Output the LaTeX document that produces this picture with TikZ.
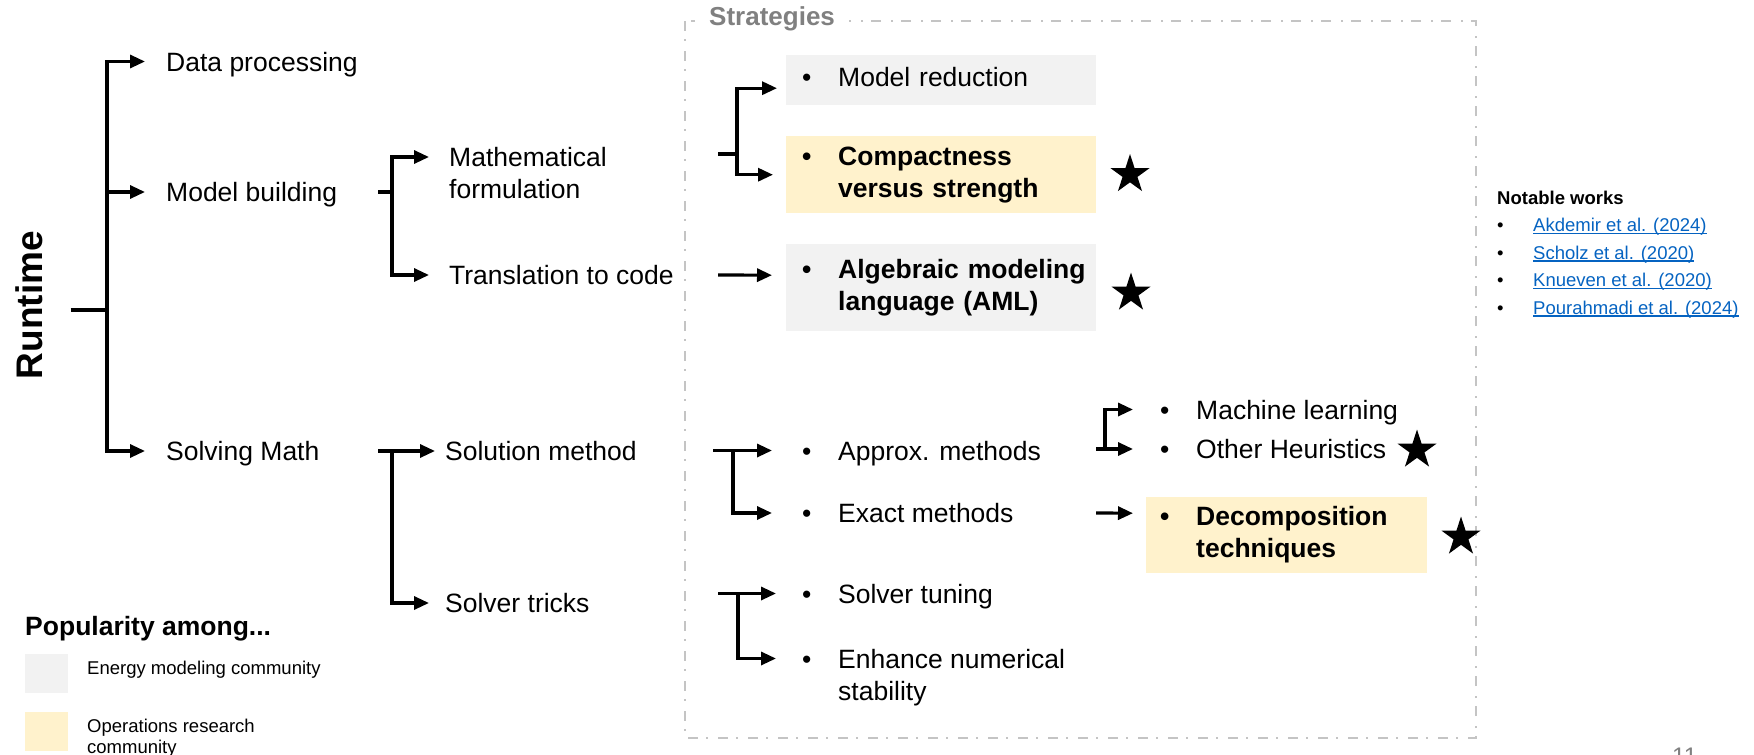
\documentclass[tikz,border=0pt]{standalone}
\usepackage{fontspec}
\setmainfont{Liberation Sans}
\usepackage{xcolor}
\usetikzlibrary{arrows.meta,shapes.geometric}

\definecolor{boxgrey}{HTML}{F2F2F2}
\definecolor{boxyellow}{HTML}{FFF2CC}
\definecolor{framegrey}{HTML}{C4C4C4}
\definecolor{labelgrey}{HTML}{808080}
\definecolor{linkblue}{HTML}{0563C1}

\newcommand{\lines}[1]{\begin{tabular}[t]{@{}l@{}}#1\end{tabular}}
\newcommand{\bul}[1]{\makebox[36pt][l]{\textbullet}\lines{#1}}
\newcommand{\lnk}[1]{\textcolor{linkblue}{\setbox0\hbox{#1}\rlap{\rule[-2.5pt]{\wd0}{1.4pt}}\box0}}

\tikzset{
	conn/.style={line width=3.2pt},
	arr/.style={conn,-{Triangle[length=15pt,width=13pt]}},
	txt/.style={inner sep=0pt,anchor=base west,font=\fontsize{26.5}{32}\selectfont},
	small/.style={inner sep=0pt,anchor=base west,font=\fontsize{18.5}{27.5}\selectfont},
	box/.style={anchor=north west,inner xsep=16pt,inner ysep=0pt,text width=278pt,align=left,font=\fontsize{26.5}{32}\selectfont},
	boldbox/.style={box,font=\fontsize{26.5}{32}\selectfont\bfseries},
	starmark/.style={star,star points=5,star point ratio=2.618,fill=black,minimum size=41pt,inner sep=0pt},
	legsq/.style={anchor=north west,minimum width=43pt,minimum height=39pt,inner sep=0pt}
}

\begin{document}
\begin{tikzpicture}[x=1pt,y=-1pt]
	\useasboundingbox (0,0) rectangle (1754,755);
	% strategies frame
	\draw[framegrey,line width=2pt,dash pattern=on 10pt off 8pt on 2pt off 10pt] (685,21) rectangle (1476,738);
	\node[txt,fill=white,inner xsep=14pt,inner ysep=3pt,text=labelgrey,font=\fontsize{26}{32}\selectfont\bfseries] (strat) at (695,25) {Strategies};
	% tree
	\node[rotate=90,anchor=base,inner sep=0pt,font=\fontsize{37}{44}\selectfont\bfseries] (rt) at (42,305) {Runtime};
	\node[txt] (dp) at (166,71) {Data processing};
	\node[txt] (mb) at (166,201.5) {Model building};
	\node[txt] (sm) at (166,460.5) {Solving Math};
	\node[txt] (mf) at (449,166.5) {\lines{Mathematical\\formulation}};
	\node[txt] (tc) at (449,284.5) {Translation to code};
	\node[txt] (sol) at (445,460.5) {Solution method};
	\node[txt] (st) at (445,612.5) {Solver tricks};
	% strategies
	\node[box,fill=boxgrey,minimum height=50pt] (bMR) at (786,55) {\bul{Model reduction}};
	\node[boldbox,fill=boxyellow,minimum height=77pt] (bCS) at (786,136) {\bul{Compactness\\versus strength}};
	\node[boldbox,fill=boxgrey,minimum height=87pt] (bAML) at (786,244) {\bul{Algebraic modeling\\language (AML)}};
	\node[txt] (apx) at (802,460) {\bul{Approx. methods}};
	\node[txt] (exm) at (802,522.5) {\bul{Exact methods}};
	\node[txt] (stn) at (802,603) {\bul{Solver tuning}};
	\node[txt] (enh) at (802,668) {\bul{Enhance numerical\\stability}};
	\node[txt] (ml) at (1160,419) {\bul{Machine learning}};
	\node[txt] (oh) at (1160,458.5) {\bul{Other Heuristics}};
	\node[boldbox,fill=boxyellow,inner xsep=14pt,text width=253pt,minimum height=76pt] (bDC) at (1146,497) {\bul{Decomposition\\techniques}};
	\node[starmark] (s1) at (1130,174.5) {};
	\node[starmark] (s2) at (1131,293) {};
	\node[starmark] (s3) at (1417,450) {};
	\node[starmark] (s4) at (1461,537) {};
	% notable works
	\node[small] (nw) at (1497,204) {\lines{\textbf{Notable works}\\
		\makebox[36pt][l]{\textbullet}\lnk{Akdemir et al. (2024)}\\
		\makebox[36pt][l]{\textbullet}\lnk{Scholz et al. (2020)}\\
		\makebox[36pt][l]{\textbullet}\lnk{Knueven et al. (2020)}\\
		\makebox[36pt][l]{\textbullet}\lnk{Pourahmadi et al. (2024)}}};
	% legend
	\node[txt,font=\fontsize{26.5}{32}\selectfont\bfseries] (pop) at (25,635) {Popularity among...};
	\node[legsq,fill=boxgrey] (lgE) at (25,654) {};
	\node[legsq,fill=boxyellow] (lgO) at (25,712) {};
	\node[small] (lgEt) at (87,674) {Energy modeling community};
	\node[small,font=\fontsize{18.5}{21}\selectfont] (lgOt) at (87,732) {\lines{Operations research\\community}};
	\node[txt,text=labelgrey,font=\fontsize{24}{28}\selectfont] (pg) at (1672,764) {11};
	% connectors
	\coordinate (fRun) at (107,310);
	\draw[conn] ([xshift=28pt]rt.south |- fRun) -- (fRun);
	\draw[arr] (fRun) |- ([xshift=-21pt,yshift=9.5pt]dp.base west);
	\draw[arr] (fRun) |- ([xshift=-21pt,yshift=9.5pt]mb.base west);
	\draw[arr] (fRun) |- ([xshift=-21pt,yshift=9.5pt]sm.base west);
	\coordinate (sMB) at (378,192);
	\coordinate (fMB) at (392,192);
	\draw[conn] (sMB) -- (fMB);
	\draw[arr] (fMB) |- ([xshift=-20pt,yshift=9.5pt]mf.base west);
	\draw[arr] (fMB) |- ([xshift=-20pt,yshift=9.5pt]tc.base west);
	\coordinate (sSM) at (378,451);
	\coordinate (fSM) at (392,451);
	\draw[arr] (sSM) -- ([xshift=-10pt,yshift=9.5pt]sol.base west);
	\draw[arr] (fSM) |- ([xshift=-16pt,yshift=9.5pt]st.base west);
	\coordinate (sMF) at (718,154);
	\coordinate (fMF) at (737,154);
	\draw[conn] (sMF) -- (fMF);
	\draw[arr] (fMF) |- ([xshift=-9pt,yshift=-8pt]bMR.west);
	\draw[arr] (fMF) |- ([xshift=-13pt]bCS.west);
	\coordinate (sTC) at (718,275);
	\draw[arr] (sTC) -- ([xshift=-14pt,yshift=12.5pt]bAML.west);
	\coordinate (sSol) at (713,450.5);
	\coordinate (fSol) at (733,450.5);
	\draw[arr] (sSol) -- ([xshift=-30pt,yshift=9.5pt]apx.base west);
	\draw[arr] (fSol) |- ([xshift=-30pt,yshift=9.5pt]exm.base west);
	\coordinate (sST) at (718,593.5);
	\coordinate (fST) at (738,593.5);
	\draw[arr] (sST) -- ([xshift=-26pt,yshift=9.5pt]stn.base west);
	\draw[arr] (fST) |- ([xshift=-26pt,yshift=9.5pt]enh.base west);
	\coordinate (sApx) at (1096,449);
	\coordinate (fApx) at (1105,449);
	\draw[arr] (sApx) -- ([xshift=-27pt,yshift=9.5pt]oh.base west);
	\draw[arr] (fApx) |- ([xshift=-27pt,yshift=9.5pt]ml.base west);
	\coordinate (sExm) at (1096,513);
	\draw[arr] (sExm) -- ([xshift=-13pt,yshift=22pt]bDC.west);
\end{tikzpicture}
\end{document}
